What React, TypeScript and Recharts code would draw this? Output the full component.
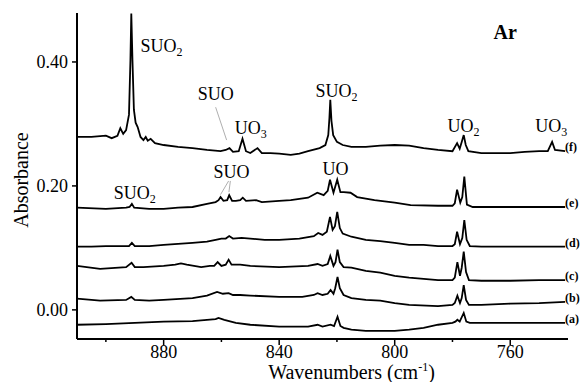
import { LineChart, Line, XAxis, YAxis, ReferenceDot, ReferenceLine } from 'recharts';

const FONT = "'Liberation Serif', 'Times New Roman', Times, serif";

// [wavenumber (cm-1), absorbance], bottom (a) to top (f)
const traceA: [number, number][] = [
    [910, -0.024], [900, -0.023], [890, -0.021], [880, -0.019], [870, -0.018], [865, -0.016],
    [862, -0.015], [861, -0.013], [859, -0.016], [855, -0.021], [850, -0.024], [840, -0.027],
    [830, -0.027], [826.7, -0.024], [825, -0.027], [822.2, -0.024], [821, -0.026], [819.8, -0.011],
    [818.8, -0.026], [817.7, -0.029], [815, -0.032], [810, -0.034], [805, -0.034], [800, -0.034],
    [795, -0.032], [790, -0.029], [785, -0.024], [780, -0.021], [779, -0.019], [778.3, -0.016],
    [777.5, -0.019], [776.1, -0.005], [775.2, -0.019], [774, -0.021], [765, -0.021], [755, -0.021],
    [741, -0.021],
];

const traceB: [number, number][] = [
    [910, 0.018], [902, 0.015], [893, 0.016], [891.2, 0.021], [890, 0.016], [885, 0.015],
    [880, 0.016], [870, 0.019], [865, 0.023], [861.5, 0.029], [859.5, 0.026], [857.5, 0.027],
    [856, 0.024], [853.5, 0.024], [850, 0.023], [840, 0.021], [832, 0.021], [828, 0.024],
    [826.7, 0.027], [825, 0.024], [823.2, 0.026], [822.2, 0.032], [821.2, 0.026], [820.6, 0.035],
    [819.8, 0.053], [819, 0.035], [817.7, 0.024], [815, 0.019], [810, 0.016], [805, 0.015],
    [800, 0.011], [795, 0.008], [785, 0.006], [780, 0.008], [779.2, 0.011], [778.3, 0.023],
    [777.4, 0.011], [776.8, 0.019], [776.1, 0.040], [775.3, 0.016], [774.3, 0.008], [770, 0.008],
    [760, 0.01], [750, 0.011], [741, 0.013],
];

const traceC: [number, number][] = [
    [910, 0.071], [902, 0.066], [893, 0.069], [891.1, 0.076], [890, 0.069], [887, 0.069],
    [880, 0.071], [876, 0.073], [874, 0.075], [872, 0.073], [867, 0.069], [864, 0.071],
    [862.5, 0.071], [861.3, 0.077], [860, 0.071], [858.5, 0.073], [857.5, 0.081], [856.5, 0.073],
    [853.5, 0.073], [850, 0.071], [840, 0.069], [830, 0.071], [826.7, 0.074], [825, 0.071],
    [823.2, 0.074], [822.3, 0.087], [821.2, 0.071], [820.5, 0.077], [819.8, 0.097], [819, 0.077],
    [817.7, 0.069], [815, 0.068], [810, 0.063], [805, 0.060], [800, 0.055], [795, 0.052],
    [790, 0.050], [785, 0.048], [780, 0.048], [779.2, 0.052], [778.3, 0.077], [777.4, 0.055],
    [776.8, 0.068], [776.1, 0.094], [775.3, 0.061], [774.3, 0.048], [770, 0.047], [760, 0.047],
    [750, 0.048], [741, 0.048],
];

const traceD: [number, number][] = [
    [910, 0.102], [905, 0.102], [900, 0.103], [892, 0.103], [891, 0.108], [890, 0.103],
    [885, 0.103], [880, 0.105], [870, 0.108], [865, 0.110], [862, 0.113], [860, 0.115],
    [858.5, 0.115], [857.3, 0.119], [856, 0.115], [853, 0.116], [850, 0.115], [845, 0.113],
    [840, 0.113], [833, 0.115], [828, 0.119], [826.5, 0.124], [825, 0.121], [823.5, 0.126],
    [822.4, 0.150], [821.5, 0.129], [820.7, 0.135], [819.9, 0.158], [819, 0.132], [818, 0.123],
    [815, 0.118], [810, 0.113], [805, 0.111], [800, 0.108], [795, 0.105], [790, 0.105],
    [785, 0.103], [780, 0.103], [779.2, 0.106], [778.4, 0.126], [777.4, 0.106], [776.6, 0.116],
    [775.9, 0.145], [775.1, 0.113], [774, 0.103], [770, 0.102], [760, 0.102], [750, 0.102],
    [741, 0.102],
];

const traceE: [number, number][] = [
    [910, 0.165], [900, 0.163], [893, 0.165], [891.8, 0.166], [891, 0.171], [890.2, 0.165],
    [885, 0.163], [880, 0.163], [875, 0.165], [870, 0.166], [865, 0.171], [862, 0.174],
    [861, 0.177], [860.3, 0.182], [859.3, 0.176], [858, 0.177], [857.3, 0.185], [856.3, 0.176],
    [855, 0.176], [853.5, 0.177], [852.6, 0.181], [851.5, 0.176], [848, 0.177], [846, 0.174],
    [840, 0.176], [836, 0.177], [830, 0.181], [826.8, 0.189], [824.6, 0.185], [823.2, 0.192],
    [822.4, 0.210], [821.2, 0.189], [819.9, 0.210], [818.8, 0.190], [817.6, 0.190], [815.3, 0.189],
    [813, 0.182], [807, 0.177], [800, 0.173], [794.5, 0.169], [785, 0.168], [780, 0.168],
    [779.2, 0.172], [778.4, 0.194], [777.3, 0.173], [776.6, 0.182], [775.9, 0.215], [775, 0.170],
    [773, 0.166], [765, 0.166], [755, 0.166], [741, 0.166],
];

const traceF: [number, number][] = [
    [910, 0.279], [905, 0.279], [900, 0.281], [898, 0.277], [896, 0.281], [895, 0.293],
    [894, 0.284], [893, 0.290], [892, 0.315], [891.5, 0.403], [891.2, 0.478], [890.8, 0.403],
    [890.3, 0.323], [889.7, 0.302], [889, 0.295], [888, 0.279], [887, 0.274], [886.2, 0.279],
    [885.5, 0.273], [884.5, 0.276], [883, 0.269], [880, 0.266], [875, 0.263], [870, 0.261],
    [865, 0.258], [860.3, 0.256], [858.5, 0.258], [857.2, 0.261], [856, 0.255], [854, 0.256],
    [852.7, 0.276], [851.5, 0.256], [850, 0.253], [847.5, 0.261], [846, 0.253], [843, 0.253],
    [840, 0.252], [836, 0.250], [833, 0.252], [830, 0.256], [826, 0.261], [824, 0.266],
    [823, 0.282], [822.6, 0.310], [822.3, 0.339], [821.9, 0.305], [821.3, 0.282], [820, 0.271],
    [818, 0.266], [815, 0.263], [810, 0.263], [805, 0.265], [800, 0.266], [795, 0.265],
    [790, 0.261], [785, 0.258], [780, 0.256], [778.4, 0.269], [777.5, 0.260], [776.8, 0.271],
    [776.1, 0.282], [775.4, 0.266], [774.5, 0.256], [770, 0.253], [765, 0.253], [760, 0.253],
    [755, 0.255], [750, 0.256], [747, 0.256], [745.5, 0.271], [744.5, 0.258], [741, 0.256],
];

const traces = [traceA, traceB, traceC, traceD, traceE, traceF];
const traceNames = ['(a)', '(b)', '(c)', '(d)', '(e)', '(f)'];

const xTicks = [900, 880, 860, 840, 820, 800, 780, 760];
const yTicks = [0, 0.2, 0.4];

// band assignments: [wavenumber, absorbance, label, subscript]
const annotations: [number, number, string, string][] = [
    [888.0, 0.416, 'SUO', '2'],
    [868.2, 0.339, 'SUO', ''],
    [855.4, 0.284, 'UO', '3'],
    [827.4, 0.344, 'SUO', '2'],
    [781.7, 0.287, 'UO', '2'],
    [751.3, 0.287, 'UO', '3'],
    [897.3, 0.179, 'SUO', '2'],
    [862.7, 0.213, 'SUO', ''],
    [825.0, 0.218, 'UO', ''],
];

// leader lines from labels to bands
const leaders: [number, number, number, number][] = [
    [862.0, 0.327, 858.2, 0.274],
    [857.5, 0.208, 860.3, 0.186],
    [856.9, 0.208, 857.4, 0.19],
];

const XTick = (props: any) => {
    const { x, y, payload } = props;
    const major = payload.value % 40 === 0;
    return (
        <g>
            <line x1={x} y1={y - 6} x2={x} y2={major ? y : y - 3} stroke="#000" strokeWidth={1.5} />
            {major && (
                <text x={x} y={y + 13} textAnchor="middle" fontSize={18} fill="#000" fontFamily={FONT}>
                    {payload.value}
                </text>
            )}
        </g>
    );
};

const YTitle = (props: any) => {
    const { viewBox } = props;
    const cx = viewBox.x + 21;
    const cy = viewBox.y + viewBox.height / 2 + 4;
    return (
        <text x={cx} y={cy} transform={`rotate(-90, ${cx}, ${cy})`} textAnchor="middle" dominantBaseline="central"
            fontSize={20} fill="#000" fontFamily={FONT}>
            Absorbance
        </text>
    );
};

const XTitle = (props: any) => {
    const { viewBox } = props;
    return (
        <text x={viewBox.x + viewBox.width / 2 + 29} y={viewBox.y + 40} textAnchor="middle" fontSize={20} fill="#000" fontFamily={FONT}>
            Wavenumbers (cm
            <tspan fontSize={12} dy={-8}>-1</tspan>
            <tspan dy={8}>)</tspan>
        </text>
    );
};

const bandLabel = (text: string, sub: string, size: number, bold = false) => (p: any) => (
    <text x={p.cx} y={p.cy} fontSize={size} fontWeight={bold ? 'bold' : 'normal'} fill="#000" fontFamily={FONT}>
        {text}
        {sub && <tspan fontSize={12} dy={4}>{sub}</tspan>}
    </text>
);

export default function App() {
    return (
        <div style={{ position: 'absolute', left: 0, top: 0, background: '#fff' }}>
            <LineChart width={585} height={382} margin={{ top: 13, right: 17, bottom: 13, left: 0 }}>
                <XAxis
                    dataKey="w"
                    type="number"
                    reversed
                    domain={[740, 910]}
                    ticks={xTicks}
                    interval={0}
                    height={30}
                    tickSize={6}
                    tickMargin={0}
                    tickLine={false}
                    tick={<XTick />}
                    axisLine={{ stroke: '#000', strokeWidth: 2 }}
                    allowDataOverflow
                    label={<XTitle />}
                />
                <YAxis
                    type="number"
                    domain={[-0.047, 0.479]}
                    ticks={yTicks}
                    width={77}
                    allowDataOverflow
                    tickSize={5}
                    tickMargin={4}
                    tickFormatter={(v: number) => v.toFixed(2)}
                    tick={{ fontSize: 18, fill: '#000', fontFamily: FONT }}
                    tickLine={{ stroke: '#000', strokeWidth: 1.5 }}
                    axisLine={{ stroke: '#000', strokeWidth: 2 }}
                    label={<YTitle />}
                />
                {traces.map((t, i) => (
                    <Line
                        key={traceNames[i]}
                        data={t.map(([w, a]) => ({ w, a }))}
                        dataKey="a"
                        type="linear"
                        stroke="#000"
                        strokeWidth={1.8}
                        dot={false}
                        activeDot={false}
                        isAnimationActive={false}
                    />
                ))}
                {leaders.map(([w1, a1, w2, a2], i) => (
                    <ReferenceLine
                        key={`ld-${i}`}
                        segment={[{ x: w1, y: a1 }, { x: w2, y: a2 }]}
                        stroke="#999"
                        strokeWidth={0.8}
                    />
                ))}
                {annotations.map(([w, a, text, sub], i) => (
                    <ReferenceDot key={`an-${i}`} x={w} y={a} r={0} shape={bandLabel(text, sub, 18)} />
                ))}
                {traces.map((t, i) => {
                    const [w, a] = t[t.length - 1];
                    return (
                        <ReferenceDot key={`tl-${i}`} x={w} y={a} r={0} shape={bandLabel(traceNames[i], '', 12, true)} />
                    );
                })}
                <ReferenceDot x={765.8} y={0.437} r={0} shape={bandLabel('Ar', '', 20, true)} />
            </LineChart>
        </div>
    );
}
